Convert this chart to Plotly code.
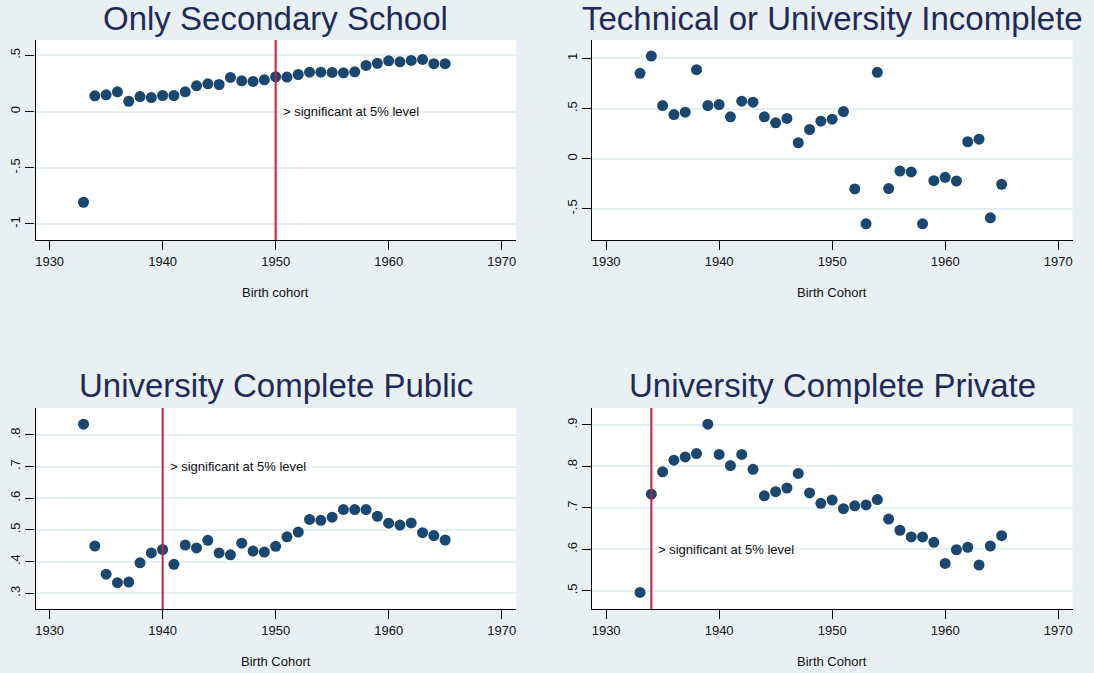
import plotly.graph_objects as go

years = [1933, 1934, 1935, 1936, 1937, 1938, 1939, 1940, 1941, 1942, 1943,
         1944, 1945, 1946, 1947, 1948, 1949, 1950, 1951, 1952, 1953, 1954,
         1955, 1956, 1957, 1958, 1959, 1960, 1961, 1962, 1963, 1964, 1965]

secondary = [-0.807, 0.140, 0.149, 0.176, 0.092, 0.134, 0.125, 0.143, 0.143,
             0.176, 0.229, 0.247, 0.241, 0.304, 0.274, 0.268, 0.283, 0.310,
             0.307, 0.330, 0.351, 0.351, 0.348, 0.345, 0.354, 0.411, 0.429,
             0.452, 0.443, 0.455, 0.464, 0.426, 0.426]

tech_incomplete = [0.851, 1.023, 0.530, 0.440, 0.464, 0.887, 0.530, 0.540,
                   0.417, 0.573, 0.563, 0.417, 0.358, 0.401, 0.159, 0.291,
                   0.374, 0.394, 0.470, -0.301, -0.649, 0.861, -0.298, -0.123,
                   -0.132, -0.649, -0.219, -0.185, -0.222, 0.169, 0.195,
                   -0.589, -0.255]

univ_public = [0.834, 0.449, 0.360, 0.333, 0.335, 0.396, 0.427, 0.438, 0.391,
               0.452, 0.443, 0.467, 0.427, 0.421, 0.458, 0.433, 0.430, 0.448,
               0.478, 0.493, 0.533, 0.530, 0.540, 0.564, 0.564, 0.564, 0.543,
               0.521, 0.515, 0.522, 0.491, 0.482, 0.468]

univ_private = [0.496, 0.733, 0.787, 0.815, 0.823, 0.831, 0.902, 0.829, 0.802,
                0.829, 0.793, 0.729, 0.739, 0.748, 0.783, 0.736, 0.711, 0.719,
                0.698, 0.705, 0.707, 0.720, 0.673, 0.646, 0.630, 0.630, 0.617,
                0.566, 0.599, 0.605, 0.562, 0.608, 0.633]

titles = ["Only Secondary School", "Technical or University Incomplete",
          "University Complete Public", "University Complete Private"]
xtitles = ["Birth cohort", "Birth Cohort", "Birth Cohort", "Birth Cohort"]
sig_years = [1950, None, 1940, 1934]
sig_label_y = [0.0, None, 0.7, 0.6]
sig_text = "> significant at 5% level"

x_ticks = [1930, 1940, 1950, 1960, 1970]
y_ticks = [[-1, -0.5, 0, 0.5], [-0.5, 0, 0.5, 1],
           [0.3, 0.4, 0.5, 0.6, 0.7, 0.8], [0.5, 0.6, 0.7, 0.8, 0.9]]
y_ticktext = [["-1", "-.5", "0", ".5"], ["-.5", "0", ".5", "1"],
              [".3", ".4", ".5", ".6", ".7", ".8"], [".5", ".6", ".7", ".8", ".9"]]
y_ranges = [[-1.143, 0.637], [-0.81, 1.183], [0.250, 0.885], [0.456, 0.941]]
x_range = [1928.75, 1971.27]

series = [secondary, tech_incomplete, univ_public, univ_private]

W, H = 1094, 673
x_doms = [[35.5 / W, 516 / W], [592 / W, 1072.5 / W]]
y_doms = [[1 - 240 / H, 1 - 40 / H], [1 - 609 / H, 1 - 408 / H]]
xtitle_y = [1 - 292 / H, 1 - 661 / H]

BG = "#e9f0f3"
GRID = "#e6eff2"
NAVY = "#1a476f"
RED = "#c81d45"
TITLE_C = "#1e2b58"
FONT = "Liberation Sans, Arial, sans-serif"

fig = go.Figure()
layout = dict(
    width=W, height=H, paper_bgcolor=BG, plot_bgcolor="white",
    margin=dict(l=0, r=0, t=0, b=0), showlegend=False,
    font=dict(family=FONT, size=13, color="#111"),
    annotations=[], shapes=[],
)

for i in range(4):
    row, col = divmod(i, 2)
    n = "" if i == 0 else str(i + 1)
    xa, ya = "x" + n, "y" + n
    fig.add_trace(go.Scatter(
        x=years, y=series[i], mode="markers", xaxis=xa, yaxis=ya,
        marker=dict(color=NAVY, size=11, line=dict(width=0)),
    ))
    layout["xaxis" + n] = dict(
        domain=x_doms[col], anchor=ya, range=x_range, tickvals=x_ticks,
        showgrid=False, zeroline=False, showline=True, linecolor="black",
        linewidth=1.2, ticks="outside", ticklen=9, tickwidth=1.2,
        tickcolor="black", tickfont=dict(size=13, color="#111"),
    )
    layout["yaxis" + n] = dict(
        domain=y_doms[row], anchor=xa, range=y_ranges[i], tickvals=y_ticks[i],
        ticktext=y_ticktext[i], tickangle=-90, showgrid=True, gridcolor=GRID,
        gridwidth=1.5, zeroline=False, showline=True, linecolor="black",
        linewidth=1.2, ticks="outside", ticklen=9, tickwidth=1.2,
        tickcolor="black", tickfont=dict(size=13, color="#111"),
    )
    # panel title
    layout["annotations"].append(dict(
        text=titles[i], xref="paper", yref="paper",
        x=(x_doms[col][0] + x_doms[col][1]) / 2, y=y_doms[row][1],
        xanchor="center", yanchor="middle", yshift=22, showarrow=False,
        font=dict(size=33, color=TITLE_C, family=FONT),
    ))
    # x axis title
    layout["annotations"].append(dict(
        text=xtitles[i], xref="paper", yref="paper",
        x=(x_doms[col][0] + x_doms[col][1]) / 2, y=xtitle_y[row],
        xanchor="center", yanchor="middle", showarrow=False,
        font=dict(size=13, color="#111", family=FONT),
    ))
    if sig_years[i] is not None:
        layout["shapes"].append(dict(
            type="line", xref=xa, yref=ya + " domain", x0=sig_years[i],
            x1=sig_years[i], y0=0, y1=1, line=dict(color=RED, width=2),
        ))
        layout["annotations"].append(dict(
            text=sig_text, xref=xa, yref=ya, x=sig_years[i], y=sig_label_y[i],
            xanchor="left", yanchor="middle", xshift=5, showarrow=False,
            font=dict(size=13, color="#111", family=FONT),
        ))

fig.update_layout(**layout)
fig.write_html("out.html", config={"displayModeBar": False})

# remove the browser's default page margin so the figure fills the window
with open("out.html", "r", encoding="utf-8") as f:
    html = f.read()
html = html.replace(
    "<head>",
    "<head><style>html,body{margin:0;padding:0;overflow:hidden;background:%s;}</style>" % BG,
    1,
)
with open("out.html", "w", encoding="utf-8") as f:
    f.write(html)
